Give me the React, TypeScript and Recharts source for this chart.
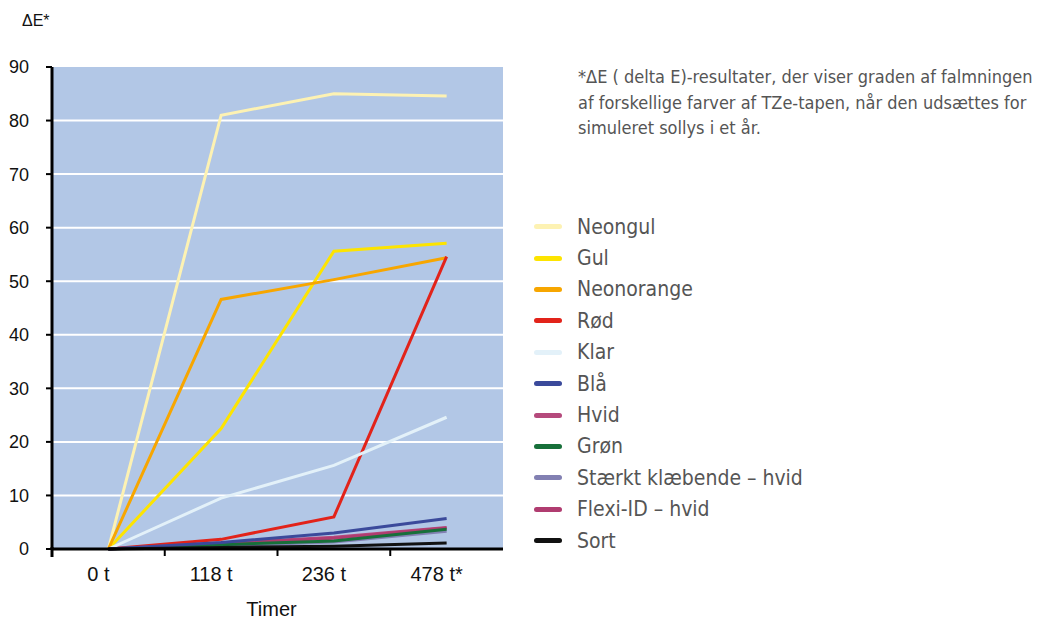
import { ComposedChart, Line, XAxis, YAxis, CartesianGrid } from 'recharts';

const categories = ['0 t', '118 t', '236 t', '478 t*'];

const neongul = [0, 81, 85, 84.6];
const gul = [0, 22.5, 55.6, 57.1];
const neonorange = [0, 46.6, 50.3, 54.4];
const rod = [0, 1.8, 6, 54.6];
const klar = [0, 9.5, 15.6, 24.6];
const bla = [0, 1.2, 3, 5.7];
const hvid = [0, 1.1, 2.2, 4.0];
const gron = [0, 0.8, 1.5, 3.7];
const staerkt = [0, 0.6, 1.3, 3.3];
const flexi = [0, 1.0, 2.0, 3.9];
const sort = [0, 0.3, 0.5, 1.1];

const yTicks = [0, 10, 20, 30, 40, 50, 60, 70, 80, 90];
const gridValues = [10, 20, 30, 40, 50, 60, 70, 80];

const series = [
  { name: 'Neongul', values: neongul, color: '#fdf2b3' },
  { name: 'Gul', values: gul, color: '#fde400' },
  { name: 'Neonorange', values: neonorange, color: '#f7a600' },
  { name: 'Rød', values: rod, color: '#e2231a' },
  { name: 'Klar', values: klar, color: '#e3f1f9' },
  { name: 'Blå', values: bla, color: '#3b4a9b' },
  { name: 'Hvid', values: hvid, color: '#b54a7c' },
  { name: 'Grøn', values: gron, color: '#17703a' },
  { name: 'Stærkt klæbende – hvid', values: staerkt, color: '#8280b2' },
  { name: 'Flexi-ID – hvid', values: flexi, color: '#b03c70' },
  { name: 'Sort', values: sort, color: '#111111' },
];

// green sits on top of the pink/purple ones in the original
const drawOrder = [0, 1, 2, 3, 4, 8, 6, 9, 7, 5, 10];

const data = categories.map((name, i) => {
  const row: Record<string, string | number> = { name };
  series.forEach((s) => {
    row[s.name] = s.values[i];
  });
  return row;
});

const narrow = "'Liberation Sans Narrow', 'DejaVu Sans Condensed', sans-serif";
const plain = "'Liberation Sans', Arial, sans-serif";

function XTick(props: any) {
  const { x, y, payload, index } = props;
  const off = payload.offset || 0;
  return (
    <g>
      {index === 0 && (
        <line x1={x - off} x2={x - off} y1={y - 2} y2={y + 8} stroke="#000" strokeWidth={3} />
      )}
      {index < categories.length - 1 && (
        <line x1={x + off} x2={x + off} y1={y} y2={y + 7} stroke="#000" strokeWidth={2} />
      )}
      <text x={x - 10} y={y + 18} dy="0.71em" textAnchor="middle" fontSize={20} fill="#111" fontFamily={plain}>
        {payload.value}
      </text>
    </g>
  );
}

export default function App() {
  return (
    <div style={{ position: 'fixed', left: 0, top: 0, width: 1039, height: 619, background: '#fff' }}>
      <div style={{ position: 'absolute', left: 22, top: 12, fontSize: 16, color: '#111', fontFamily: plain }}>
        ΔE*
      </div>
      <div
        style={{
          position: 'absolute',
          left: 578,
          top: 64,
          width: 460,
          fontSize: 18,
          lineHeight: '25.5px',
          color: '#555',
          fontFamily: narrow,
        }}
      >
        *ΔE ( delta E)-resultater, der viser graden af falmningen af forskellige farver af TZe-tapen, når den udsættes for
        simuleret sollys i et år.
      </div>
      {/* legend, in the same order as the series */}
      <div style={{ position: 'absolute', left: 534, top: 211, width: 320, fontFamily: narrow }}>
        {series.map((s) => (
          <div key={s.name} style={{ height: 31.4, display: 'flex', alignItems: 'center' }}>
            <span
              style={{
                display: 'inline-block',
                width: 28,
                height: 5,
                borderRadius: 3,
                background: s.color,
                marginRight: 15,
              }}
            />
            <span style={{ fontSize: 21, color: '#555' }}>{s.name}</span>
          </div>
        ))}
      </div>
      <ComposedChart
        width={1039}
        height={619}
        data={data}
        margin={{ top: 67, right: 536, bottom: 0, left: 0 }}
        style={{ position: 'absolute', left: 0, top: 0 }}
      >
        <CartesianGrid vertical={false} horizontalValues={gridValues} stroke="#fff" strokeWidth={2} fill="#b2c7e6" />
        <XAxis
          dataKey="name"
          scale="band"
          height={70}
          interval={0}
          axisLine={{ stroke: '#000', strokeWidth: 3 }}
          tickLine={false}
          tickSize={0}
          tickMargin={0}
          tick={<XTick />}
          label={{ value: 'Timer', position: 'insideBottom', offset: 3, dx: -6, fontSize: 20, fill: '#111', fontFamily: plain }}
        />
        <YAxis
          domain={[0, 90]}
          ticks={yTicks}
          width={52}
          interval={0}
          axisLine={{ stroke: '#000', strokeWidth: 3 }}
          tickLine={{ stroke: '#000', strokeWidth: 2 }}
          tickSize={6}
          tickMargin={17}
          tick={{ fontSize: 18, fill: '#111', fontFamily: plain }}
        />
        {drawOrder.map((k) => {
          const s = series[k];
          return (
            <Line
              key={s.name}
              dataKey={s.name}
              stroke={s.color}
              strokeWidth={3}
              dot={false}
              activeDot={false}
              isAnimationActive={false}
            />
          );
        })}
      </ComposedChart>
    </div>
  );
}
